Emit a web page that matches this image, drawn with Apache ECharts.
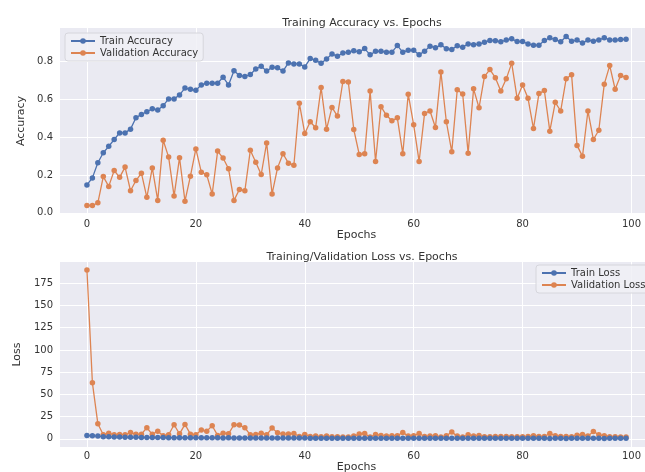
<!DOCTYPE html>
<html>
<head>
<meta charset="utf-8">
<script src="https://cdn.jsdelivr.net/npm/echarts@6/dist/echarts.min.js"></script>
<style>
html,body{margin:0;padding:0;background:#fff;}
#c{width:645px;height:472px;}
</style>
</head>
<body>
<div id="c"></div>
<script>
const trainAcc = [0.148,0.185,0.265,0.318,0.352,0.388,0.423,0.423,0.443,0.503,0.521,0.535,0.551,0.544,0.567,0.603,0.603,0.624,0.660,0.654,
0.649,0.677,0.686,0.686,0.686,0.718,0.677,0.752,0.727,0.722,0.732,0.761,0.775,0.750,0.770,0.768,0.750,0.793,0.788,0.788,0.772,
0.816,0.807,0.791,0.814,0.841,0.828,0.846,0.850,0.857,0.852,0.869,0.836,0.855,0.855,0.850,0.850,0.885,0.850,0.860,0.860,
0.837,0.855,0.882,0.873,0.889,0.868,0.864,0.884,0.876,0.894,0.890,0.893,0.902,0.912,0.911,0.905,0.915,0.921,0.906,0.906,
0.894,0.887,0.887,0.912,0.926,0.917,0.905,0.933,0.908,0.914,0.898,0.914,0.908,0.915,0.926,0.915,0.914,0.917,0.919];
const valAcc = [0.039,0.039,0.053,0.192,0.140,0.224,0.188,0.242,0.117,0.171,0.210,0.082,0.238,0.066,0.384,0.295,0.089,0.292,0.062,0.194,
0.338,0.215,0.201,0.100,0.327,0.290,0.233,0.066,0.124,0.117,0.331,0.268,0.203,0.370,0.100,0.238,0.313,0.263,0.252,0.580,0.420,
0.482,0.450,0.663,0.443,0.558,0.512,0.695,0.692,0.441,0.309,0.313,0.645,0.272,0.562,0.516,0.487,0.503,0.313,0.628,0.466,
0.272,0.526,0.539,0.452,0.745,0.482,0.323,0.651,0.629,0.316,0.656,0.556,0.722,0.758,0.715,0.645,0.709,0.792,0.606,0.676,
0.606,0.446,0.631,0.647,0.432,0.585,0.539,0.709,0.731,0.357,0.299,0.539,0.388,0.437,0.681,0.779,0.654,0.727,0.716];
const trainLoss = [3.7,3.3,3.0,2.4,2.2,2.0,1.9,1.8,1.75,1.6,1.55,1.5,1.45,1.45,1.4,1.3,1.3,1.25,1.15,1.15,
1.15,1.1,1.05,1.05,1.05,0.95,1.05,0.9,0.95,0.95,0.9,0.85,0.8,0.85,0.8,0.8,0.85,0.75,0.75,0.75,
0.78,0.7,0.72,0.74,0.7,0.65,0.67,0.64,0.63,0.62,0.63,0.6,0.65,0.6,0.6,0.61,0.6,0.55,0.6,0.58,
0.58,0.62,0.58,0.54,0.55,0.53,0.57,0.58,0.54,0.55,0.52,0.53,0.53,0.5,0.48,0.48,0.5,0.47,0.46,0.5,
0.5,0.52,0.54,0.54,0.48,0.45,0.47,0.5,0.44,0.48,0.47,0.51,0.47,0.48,0.47,0.45,0.47,0.47,0.46,0.46];
const valLoss = [190,63,17,4.5,6.3,4.5,4.9,4.5,7.1,5.0,5.2,12.4,5.0,8.6,3.4,4.5,15.8,5.6,16.2,5.2,
4.5,9.9,8.6,14.7,3.8,6.3,5.6,15.8,15.4,12.4,4.5,4.9,6.3,4.5,12.0,6.8,5.3,5.3,6.0,2.6,
4.9,2.6,3.0,2.3,3.0,2.3,2.3,1.9,1.9,3.0,5.3,6.0,1.9,4.9,3.8,3.0,3.4,3.4,7.2,3.0,
3.4,6.0,2.6,3.0,3.4,1.9,3.4,7.5,3.0,1.9,4.5,3.0,3.8,2.3,2.3,2.6,2.6,2.6,2.3,2.3,
2.3,2.6,3.4,2.6,2.6,6.0,3.4,2.6,2.6,2.3,4.1,4.9,3.0,8.3,4.5,3.4,2.3,2.3,1.9,1.9];
const epochs = trainAcc.map((_, i) => i);
const xTicks = [0, 20, 40, 60, 80, 100];
const accTicks = [0.0, 0.2, 0.4, 0.6, 0.8];
const lossTicks = [0, 25, 50, 75, 100, 125, 150, 175];

const BLUE = '#4C72B0', ORANGE = '#DD8452', TXT = '#333333', FONT = 'DejaVu Sans';
const pair = arr => epochs.map(e => [e, arr[e]]);

function xAxis(idx, margin, gap) {
  return {
    type: 'value', gridIndex: idx, min: -4.95, max: 103.95,
    name: 'Epochs', nameLocation: 'middle', nameGap: gap,
    nameTextStyle: { color: TXT, fontFamily: FONT, fontSize: 11 },
    axisLine: { show: false }, axisTick: { show: false, customValues: xTicks },
    axisLabel: { customValues: xTicks, color: TXT, fontFamily: FONT, fontSize: 10, margin: margin },
    splitLine: { show: true, lineStyle: { color: '#ffffff', width: 1 } }
  };
}
function yAxis(idx, min, max, ticks, name, fmt) {
  return {
    type: 'value', gridIndex: idx, min: min, max: max,
    name: name, nameLocation: 'middle', nameGap: 32, nameRotate: 90,
    nameTextStyle: { color: TXT, fontFamily: FONT, fontSize: 11 },
    axisLine: { show: false }, axisTick: { show: false, customValues: ticks },
    axisLabel: { customValues: ticks, color: TXT, fontFamily: FONT, fontSize: 10, margin: 7, formatter: fmt },
    splitLine: { show: true, lineStyle: { color: '#ffffff', width: 1 } }
  };
}
function line(name, data, color, xi) {
  return {
    name: name, type: 'line', xAxisIndex: xi, yAxisIndex: xi, data: data,
    symbol: 'circle', symbolSize: 5.5, showSymbol: true,
    itemStyle: { color: color }, lineStyle: { color: color, width: 1.3 },
    animation: false, z: color === BLUE ? 3 : 2
  };
}
const legendBase = {
  orient: 'vertical', itemWidth: 24, itemHeight: 7, itemGap: 2,
  backgroundColor: 'rgba(240,240,246,0.85)', borderColor: '#d6d6dc', borderWidth: 1,
  borderRadius: 3, padding: [3, 5, 3, 5],
  textStyle: { color: TXT, fontFamily: FONT, fontSize: 10 }
};

const chart = echarts.init(document.getElementById('c'), null, { renderer: 'canvas' });
chart.setOption({
  backgroundColor: '#ffffff',
  animation: false,
  title: [
    { text: 'Training Accuracy vs. Epochs', left: 357, top: 13, textAlign: 'center',
      textStyle: { color: TXT, fontFamily: FONT, fontSize: 11, fontWeight: 'normal' } },
    { text: 'Training/Validation Loss vs. Epochs', left: 357, top: 247, textAlign: 'center',
      textStyle: { color: TXT, fontFamily: FONT, fontSize: 11, fontWeight: 'normal' } }
  ],
  grid: [
    { left: 60, top: 28, width: 593, height: 186, show: true, backgroundColor: '#EAEAF2', borderWidth: 0,
      containLabel: false, outerBoundsMode: 'none' },
    { left: 60, top: 262, width: 593, height: 185, show: true, backgroundColor: '#EAEAF2', borderWidth: 0,
      containLabel: false, outerBoundsMode: 'none' }
  ],
  xAxis: [xAxis(0, 5, 15), xAxis(1, 4, 14)],
  yAxis: [
    yAxis(0, -0.006, 0.978, accTicks, 'Accuracy', v => v.toFixed(1)),
    yAxis(1, -9.25, 199, lossTicks, 'Loss', v => String(v))
  ],
  legend: [
    Object.assign({}, legendBase, { left: 65, top: 33, data: ['Train Accuracy', 'Validation Accuracy'] }),
    Object.assign({}, legendBase, { left: 536, top: 265, data: ['Train Loss', 'Validation Loss'] })
  ],
  series: [
    line('Train Accuracy', pair(trainAcc), BLUE, 0),
    line('Validation Accuracy', pair(valAcc), ORANGE, 0),
    line('Train Loss', pair(trainLoss), BLUE, 1),
    line('Validation Loss', pair(valLoss), ORANGE, 1)
  ]
});
</script>
</body>
</html>
